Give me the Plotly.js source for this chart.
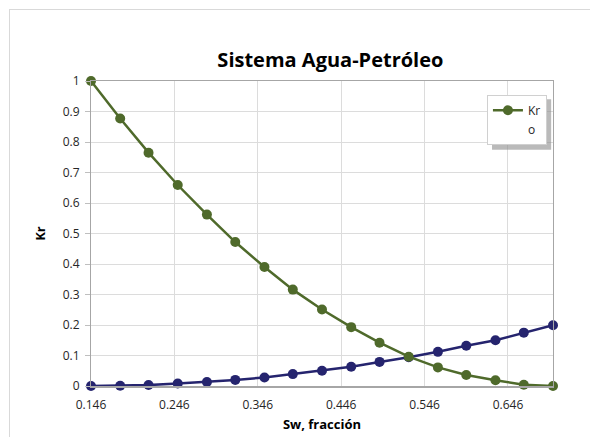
<!DOCTYPE html>
<html>
<head>
<meta charset="utf-8">
<script src="https://cdn.plot.ly/plotly-3.0.1.min.js"></script>
<style>
  html, body { margin: 0; padding: 0; background: #fff; }
  #wrap { position: relative; width: 590px; height: 437px; overflow: hidden; }
  #chart { width: 590px; height: 437px; }
  #frame { position: absolute; left: 9px; top: 9px; width: 600px; height: 440px;
           border: 1px solid #d9d9d9; pointer-events: none; box-sizing: border-box; }
</style>
</head>
<body>
<div id="wrap">
  <div id="chart"></div>
  <div id="frame"></div>
</div>
<script>
// Sw values (fraction)
const sw = [0.146, 0.181, 0.215, 0.250, 0.285, 0.319, 0.354, 0.388, 0.423,
            0.458, 0.492, 0.527, 0.562, 0.596, 0.631, 0.665, 0.700];
// Kr (oil) - green series
const krOil = [1.0, 0.877, 0.765, 0.659, 0.562, 0.472, 0.390, 0.316, 0.251,
               0.193, 0.142, 0.096, 0.061, 0.036, 0.019, 0.004, 0.0];
// Kr (water) - blue series
const krWater = [0.0, 0.001, 0.003, 0.008, 0.013, 0.020, 0.028, 0.039, 0.050,
                 0.063, 0.079, 0.094, 0.112, 0.132, 0.150, 0.175, 0.199];
const xTickVals = [0.146, 0.246, 0.346, 0.446, 0.546, 0.646];
const xTickText = ["0.146", "0.246", "0.346", "0.446", "0.546", "0.646"];
const yTickVals = [0, 0.1, 0.2, 0.3, 0.4, 0.5, 0.6, 0.7, 0.8, 0.9, 1];
const yTickText = ["0", "0.1", "0.2", "0.3", "0.4", "0.5", "0.6", "0.7", "0.8", "0.9", "1"];

const green = '#4f6a2b';
const blue = '#25246e';
const font = 'Open Sans, Lato, sans-serif';

const traces = [
  {
    x: sw, y: krWater, type: 'scatter', mode: 'lines+markers', name: 'Krw',
    showlegend: false, cliponaxis: false,
    line: { color: blue, width: 2.5 },
    marker: { color: blue, size: 10 }
  },
  {
    x: sw, y: krOil, type: 'scatter', mode: 'lines+markers', name: 'Kr',
    cliponaxis: false,
    line: { color: green, width: 2.5 },
    marker: { color: green, size: 10 }
  },
  {
    x: [null], y: [null], type: 'scatter', mode: 'none', name: 'o'
  }
];

const layout = {
  width: 590, height: 437,
  margin: { l: 91, r: 37, t: 81, b: 51 },
  paper_bgcolor: '#ffffff', plot_bgcolor: '#ffffff',
  font: { family: font, size: 12, color: '#404040' },
  title: {
    text: '<b>Sistema Agua-Petróleo</b>',
    font: { family: font, size: 20, color: '#000000' },
    x: 0.56, xanchor: 'center', y: 0.862, yanchor: 'middle'
  },
  xaxis: {
    range: [0.146, 0.700],
    tickmode: 'array', tickvals: xTickVals, ticktext: xTickText,
    showgrid: true, gridcolor: '#dcdcdc', gridwidth: 1,
    zeroline: false,
    showline: true, linecolor: '#a6a6a6', linewidth: 1.5, mirror: true,
    ticks: '', ticklabelstandoff: 7,
    tickfont: { family: font, size: 12, color: '#262626' },
    title: { text: '<b>Sw, fracción</b>', font: { family: font, size: 13, color: '#000' }, standoff: 8 }
  },
  yaxis: {
    range: [0, 1],
    tickmode: 'array', tickvals: yTickVals, ticktext: yTickText,
    showgrid: true, gridcolor: '#dcdcdc', gridwidth: 1,
    zeroline: false,
    showline: true, linecolor: '#a6a6a6', linewidth: 1, mirror: true,
    ticks: 'outside', ticklen: 5, tickcolor: '#bfbfbf', ticklabelstandoff: 3,
    tickfont: { family: font, size: 12, color: '#262626' },
    title: { text: '<b>Kr</b>', font: { family: font, size: 13, color: '#000' }, standoff: 14 }
  },
  legend: {
    x: 0.857, y: 0.955, xanchor: 'left', yanchor: 'top',
    bgcolor: '#ffffff', bordercolor: '#d0d0d0', borderwidth: 1,
    font: { family: font, size: 12, color: '#262626' },
    itemwidth: 30, tracegroupgap: 0
  },
  shapes: [
    { type: 'rect', xref: 'paper', yref: 'paper', layer: 'above',
      x0: 0.868, x1: 0.996, y0: 0.775, y1: 0.94,
      fillcolor: 'rgba(140,140,140,0.6)', line: { width: 0 } }
  ],
  showlegend: true
};

Plotly.newPlot('chart', traces, layout, { displayModeBar: false, staticPlot: true });
</script>
</body>
</html>
